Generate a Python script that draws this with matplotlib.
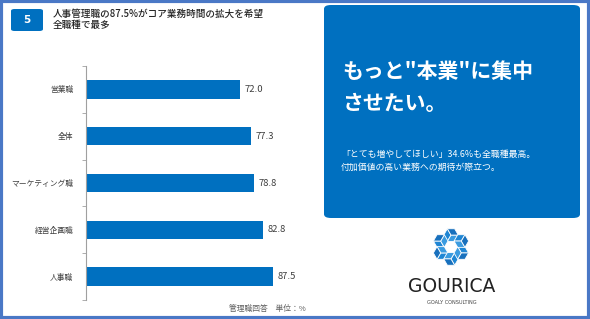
import matplotlib
matplotlib.use("Agg")
import matplotlib.pyplot as plt
from matplotlib.patches import FancyBboxPatch, Rectangle, Polygon
import numpy as np

plt.rcParams['font.family'] = ['Noto Sans CJK JP', 'DejaVu Sans']

# data
categories = ['営業職', '全体', 'マーケティング職', '経営企画職', '人事職']
values = [72.0, 77.3, 78.8, 82.8, 87.5]

title_lines = '人事管理職の87.5%がコア業務時間の拡大を希望\n全職種で最多'
headline = 'もっと"本業"に集中\nさせたい。'
subtext = '「とても増やしてほしい」34.6%も全職種最高。\n付加価値の高い業務への期待が際立つ。'
note = '管理職回答　単位：%'

BLUE = '#0070C0'
W, H = 590, 319

fig = plt.figure(figsize=(W / 100, H / 100), dpi=100)

def fx(px):
    return px / W

def fy(py):
    return 1 - py / H

# outer frame
fig.patches.append(Rectangle((0.002, 0.003), 0.996, 0.994, transform=fig.transFigure,
                             fill=False, edgecolor='#4A78C6', lw=3))

# number badge
fig.patches.append(FancyBboxPatch((fx(11), fy(31)), fx(32), 22 / H,
                                  boxstyle='round,pad=0,rounding_size=0.006',
                                  transform=fig.transFigure, facecolor=BLUE, edgecolor='none'))
fig.text(fx(27), fy(20), '5', color='white', fontsize=7.5, fontweight='bold',
         ha='center', va='center', family='DejaVu Sans')
fig.text(fx(53), fy(19.5), title_lines, fontsize=6.9, color='#222222',
         ha='left', va='center', linespacing=1.2, fontweight='medium')

# bar chart
ax = fig.add_axes([fx(86), fy(300), fx(310 - 86), (300 - 66) / H])
y = np.arange(len(categories))
ax.barh(y, values, height=0.39, color=BLUE)
ax.set_xlim(0, 105)
ax.set_ylim(len(categories) - 0.5, -0.5)
for yi, v in zip(y, values):
    ax.text(v + 2.2, yi, f'{v:.1f}', va='center', ha='left', fontsize=6.8, color='#404040')
ax.set_yticks(y)
ax.set_yticklabels(categories, fontsize=5.6, color='#404040')
ax.set_yticks(np.arange(len(categories) + 1) - 0.5, minor=True)
ax.tick_params(axis='y', which='major', length=0, pad=9)
ax.tick_params(axis='y', which='minor', length=3, color='#A0A0A0', direction='out')
ax.set_xticks([])
for s in ['top', 'right', 'bottom']:
    ax.spines[s].set_visible(False)
ax.spines['left'].set_color('#A0A0A0')
ax.spines['left'].set_linewidth(0.8)
ax.patch.set_alpha(0)

fig.text(fx(306), fy(309), note, fontsize=5.6, color='#606060', ha='right', va='center')

# right message panel
fig.patches.append(FancyBboxPatch((fx(324), fy(218)), fx(256), 213 / H,
                                  boxstyle='round,pad=0,rounding_size=0.012',
                                  transform=fig.transFigure, facecolor=BLUE, edgecolor='none'))
fig.text(fx(342), fy(87.5), headline, fontsize=15, color='white', fontweight='bold',
         ha='left', va='center', linespacing=1.6)
fig.text(fx(341), fy(161), subtext, fontsize=6.4, color='white',
         ha='left', va='center', linespacing=1.45)

# logo
lax = fig.add_axes([fx(426), fy(267), fx(50), 40 / H])
lax.set_xlim(-3.0, 3.0)
lax.set_ylim(-2.6, 2.6)
lax.set_aspect('equal')
lax.axis('off')
face_cols = ['#1F86D4', '#3A9BE0', '#1870BD']
for k in range(6):
    ang = np.deg2rad(90 + 60 * k)
    cx, cy = 1.55 * np.cos(ang), 1.55 * np.sin(ang)
    r = 0.95
    rot = ang + np.pi / 6
    pts = [(cx + r * np.cos(rot + np.deg2rad(60 * i)), cy + r * np.sin(rot + np.deg2rad(60 * i)))
           for i in range(6)]
    c = (cx, cy)
    for j in range(3):
        quad = [c, pts[2 * j], pts[2 * j + 1], pts[(2 * j + 2) % 6]]
        lax.add_patch(Polygon(quad, closed=True, facecolor=face_cols[j],
                              edgecolor='white', lw=0.6))

fig.text(fx(452), fy(287), 'GOURICA', fontsize=13.5, color='#222222', ha='center',
         va='center', family='DejaVu Sans', fontweight='medium')
fig.text(fx(452), fy(303), 'GOALY CONSULTING', fontsize=3.6, color='#444444',
         ha='center', va='center', family='DejaVu Sans')

fig.savefig('out.png', dpi=100)
